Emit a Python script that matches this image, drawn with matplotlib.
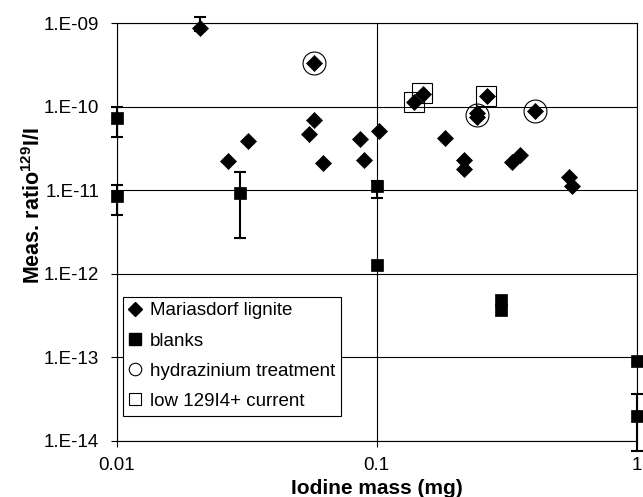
import matplotlib
matplotlib.use("Agg")
import matplotlib.pyplot as plt
from matplotlib.lines import Line2D
import numpy as np

plt.rcParams['font.family'] = ['Liberation Sans', 'DejaVu Sans']
plt.rcParams['mathtext.fontset'] = 'custom'
plt.rcParams['mathtext.rm'] = 'Liberation Sans'
plt.rcParams['mathtext.bf'] = 'Liberation Sans:bold'

# Mariasdorf lignite samples
lignite_x = [0.021, 0.0575, 0.0572, 0.0551, 0.0621, 0.0864, 0.0897, 0.102, 0.0269, 0.0320,
             0.139, 0.151, 0.266, 0.2435, 0.2435, 0.408, 0.184, 0.217, 0.217, 0.331, 0.356,
             0.551, 0.563]
lignite_y = [8.7e-10, 3.37e-10, 6.95e-11, 4.69e-11, 2.1e-11, 4.08e-11, 2.3e-11, 5.18e-11,
             2.26e-11, 3.93e-11, 1.13e-10, 1.42e-10, 1.34e-10, 8.5e-11, 7.5e-11, 8.9e-11,
             4.2e-11, 2.3e-11, 1.78e-11, 2.2e-11, 2.65e-11, 1.46e-11, 1.12e-11]
# error bar on the first lignite point
lignite_err_x = [0.021]
lignite_err_y = [8.7e-10]
lignite_err_lo = [8.0e-10]
lignite_err_hi = [1.2e-9]

# blanks
blanks_x = [0.01, 0.01, 0.0299, 0.1003, 0.1003, 0.300, 0.300, 1.0, 1.0]
blanks_y = [7.28e-11, 8.6e-12, 9.2e-12, 1.13e-11, 1.26e-12, 4.85e-13, 3.68e-13, 9.04e-14, 1.95e-14]
blanks_err_x = [0.01, 0.01, 0.0299, 0.1003, 1.0]
blanks_err_y = [7.28e-11, 8.6e-12, 9.2e-12, 1.13e-11, 1.95e-14]
blanks_err_lo = [4.38e-11, 5.0e-12, 2.68e-12, 8.15e-12, 7.5e-15]
blanks_err_hi = [1.0e-10, 1.17e-11, 1.64e-11, 1.3e-11, 3.63e-14]

# hydrazinium treatment (circles)
hydra_x = [0.0575, 0.2435, 0.408]
hydra_y = [3.37e-10, 7.98e-11, 8.9e-11]

# low 129I4+ current (open squares)
lowcur_x = [0.1396, 0.150, 0.264]
lowcur_y = [1.13e-10, 1.45e-10, 1.36e-10]

xticks = [0.01, 0.1, 1]
xtick_labels = ['0.01', '0.1', '1']
yticks = [1e-14, 1e-13, 1e-12, 1e-11, 1e-10, 1e-9]
ytick_labels = ['1.E-14', '1.E-13', '1.E-12', '1.E-11', '1.E-10', '1.E-09']

fig = plt.figure(figsize=(6.43, 4.97), dpi=100)
ax = fig.add_axes([0.1812, 0.1133, 0.8090, 0.8398])
ax.set_xscale('log')
ax.set_yscale('log')
ax.set_xlim(0.01, 1)
ax.set_ylim(1e-14, 1e-9)

ax.grid(True, which='major', color='black', linewidth=0.8)
ax.set_axisbelow(True)
for s in ax.spines.values():
    s.set_color('black')
    s.set_linewidth(0.8)

def err(ys, lo, hi):
    ys = np.array(ys)
    return [ys - np.array(lo), np.array(hi) - ys]

ax.errorbar(lignite_err_x, lignite_err_y, yerr=err(lignite_err_y, lignite_err_lo, lignite_err_hi),
            fmt='none', ecolor='black', elinewidth=1.5, capsize=4.5, capthick=1.5, zorder=3,
            clip_on=False)
ax.errorbar(blanks_err_x, blanks_err_y, yerr=err(blanks_err_y, blanks_err_lo, blanks_err_hi),
            fmt='none', ecolor='black', elinewidth=1.5, capsize=4.5, capthick=1.5, zorder=3,
            clip_on=False)

ax.plot(lignite_x, lignite_y, 'D', color='black', markersize=8, markeredgewidth=0.5,
        linestyle='none', zorder=4, clip_on=False)
ax.plot(blanks_x, blanks_y, 's', color='black', markersize=9, markeredgewidth=0.5,
        linestyle='none', zorder=4, clip_on=False)
ax.plot(hydra_x, hydra_y, 'o', markerfacecolor='none', markeredgecolor='black',
        markersize=16.5, markeredgewidth=0.8, linestyle='none', zorder=5)
ax.plot(lowcur_x, lowcur_y, 's', markerfacecolor='none', markeredgecolor='black',
        markersize=14.5, markeredgewidth=0.8, linestyle='none', zorder=5)

ax.xaxis.set_major_locator(matplotlib.ticker.FixedLocator(xticks))
ax.xaxis.set_major_formatter(matplotlib.ticker.FixedFormatter(xtick_labels))
ax.yaxis.set_major_locator(matplotlib.ticker.FixedLocator(yticks))
ax.yaxis.set_major_formatter(matplotlib.ticker.FixedFormatter(ytick_labels))
ax.xaxis.set_minor_locator(matplotlib.ticker.NullLocator())
ax.yaxis.set_minor_locator(matplotlib.ticker.NullLocator())
ax.tick_params(axis='both', which='major', direction='out', length=4.5, width=0.8,
               labelsize=13.5)
ax.tick_params(axis='x', pad=7)
ax.tick_params(axis='y', pad=8)

ax.set_xlabel('Iodine mass (mg)', fontsize=15, fontweight='bold', labelpad=4)
ax.set_ylabel(r'Meas. ratio$^{\mathbf{129}}$I/I', fontsize=15.5, fontweight='bold')
ax.yaxis.set_label_coords(-0.137, 0.563)

handles = [
    Line2D([], [], marker='D', color='black', linestyle='none', markersize=7),
    Line2D([], [], marker='s', color='black', linestyle='none', markersize=9),
    Line2D([], [], marker='o', markerfacecolor='none', markeredgecolor='black',
           linestyle='none', markersize=9, markeredgewidth=0.8),
    Line2D([], [], marker='s', markerfacecolor='none', markeredgecolor='black',
           linestyle='none', markersize=9, markeredgewidth=0.8),
]
labels = ['Mariasdorf lignite', 'blanks', 'hydrazinium treatment', 'low 129I4+ current']
leg = ax.legend(handles, labels, loc='lower left', bbox_to_anchor=(0.012, 0.06),
                borderaxespad=0, fontsize=13.5, fancybox=False, framealpha=1,
                edgecolor='black', handlelength=0.7, handletextpad=0.45, borderpad=0.3,
                labelspacing=0.7)
leg.get_frame().set_linewidth(0.8)
leg.set_zorder(6)

fig.savefig('out.png', dpi=100)
